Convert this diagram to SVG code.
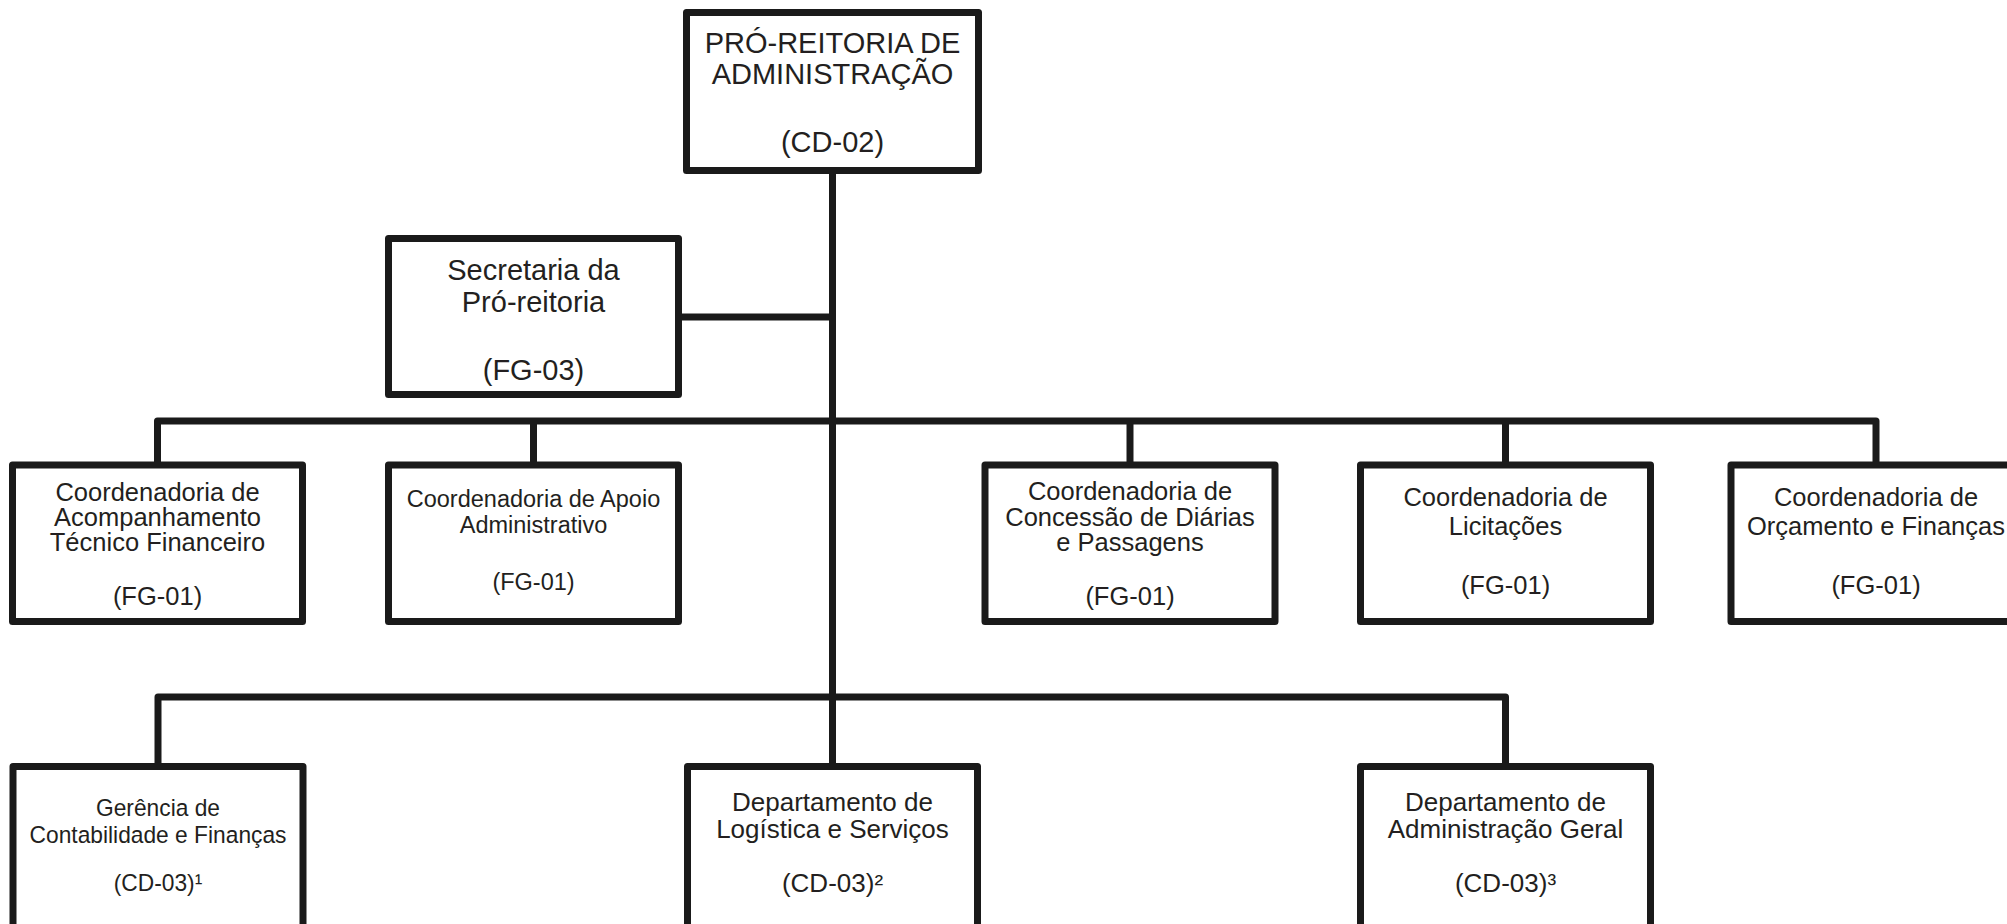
<svg xmlns="http://www.w3.org/2000/svg" width="2007" height="924" viewBox="0 0 2007 924">
<style>
.box{fill:#fff;stroke:#1a1a1a;stroke-width:7;stroke-linejoin:round}
.con{fill:none;stroke:#1a1a1a;stroke-width:7;stroke-linejoin:round}
text{font-family:"Liberation Sans",Arial,sans-serif;fill:#231f20;text-anchor:middle}
.f29{font-size:29px}
.f255{font-size:25.5px}
.f235{font-size:23.5px}
.f26{font-size:26px}
</style>
<rect width="2007" height="924" fill="#fff"/>
<g id="connectors">
<path class="con" d="M832.5,170 V766.5"/>
<path class="con" d="M678.5,317 H832.5"/>
<path class="con" d="M157.5,465 V421 H1876 V465"/>
<path class="con" d="M533.5,421 V465"/>
<path class="con" d="M1130,421 V465"/>
<path class="con" d="M1505.5,421 V465"/>
<path class="con" d="M158,766.5 V697 H1505.5 V766.5"/>
</g>
<g id="pro-reitoria">
<rect class="box" x="686.5" y="12.5" width="292" height="158"/>
<text class="f29" x="832.5" y="53">PRÓ-REITORIA DE</text>
<text class="f29" x="832.5" y="84">ADMINISTRAÇÃO</text>
<text class="f29" x="832.5" y="152">(CD-02)</text>
</g>
<g id="secretaria">
<rect class="box" x="388.5" y="238.5" width="290" height="156"/>
<text class="f29" x="533.5" y="280">Secretaria da</text>
<text class="f29" x="533.5" y="312">Pró-reitoria</text>
<text class="f29" x="533.5" y="380">(FG-03)</text>
</g>
<g id="coord-acompanhamento">
<rect class="box" x="12.5" y="465" width="290" height="156.5"/>
<text class="f255" x="157.5" y="501">Coordenadoria de</text>
<text class="f255" x="157.5" y="526">Acompanhamento</text>
<text class="f255" x="157.5" y="551">Técnico Financeiro</text>
<text class="f255" x="157.5" y="605">(FG-01)</text>
</g>
<g id="coord-apoio">
<rect class="box" x="388.5" y="465" width="290" height="156.5"/>
<text class="f235" x="533.5" y="507">Coordenadoria de Apoio</text>
<text class="f235" x="533.5" y="533">Administrativo</text>
<text class="f235" x="533.5" y="590">(FG-01)</text>
</g>
<g id="coord-diarias">
<rect class="box" x="985" y="465" width="290" height="156.5"/>
<text class="f255" x="1130" y="500">Coordenadoria de</text>
<text class="f255" x="1130" y="526">Concessão de Diárias</text>
<text class="f255" x="1130" y="551">e Passagens</text>
<text class="f255" x="1130" y="605">(FG-01)</text>
</g>
<g id="coord-licitacoes">
<rect class="box" x="1360.5" y="465" width="290" height="156.5"/>
<text class="f255" x="1505.5" y="506">Coordenadoria de</text>
<text class="f255" x="1505.5" y="535">Licitações</text>
<text class="f255" x="1505.5" y="594">(FG-01)</text>
</g>
<g id="coord-orcamento">
<rect class="box" x="1731" y="465" width="290" height="156.5"/>
<text class="f255" x="1876" y="506">Coordenadoria de</text>
<text class="f255" x="1876" y="535">Orçamento e Finanças</text>
<text class="f255" x="1876" y="594">(FG-01)</text>
</g>
<g id="gerencia-contabilidade">
<rect class="box" x="13" y="766.5" width="290" height="180"/>
<g transform="translate(158,0) scale(0.93,1)">
<text x="0" y="816" font-size="24.5">Gerência de</text>
<text x="0" y="843" font-size="24.5">Contabilidade e Finanças</text>
<text x="0" y="891" font-size="24.5">(CD-03)¹</text>
</g>
</g>
<g id="dep-logistica">
<rect class="box" x="687.5" y="766.5" width="290" height="180"/>
<text class="f26" x="832.5" y="811">Departamento de</text>
<text class="f26" x="832.5" y="838">Logística e Serviços</text>
<text class="f26" x="832.5" y="892">(CD-03)²</text>
</g>
<g id="dep-adm-geral">
<rect class="box" x="1360.5" y="766.5" width="290" height="180"/>
<text class="f26" x="1505.5" y="811">Departamento de</text>
<text class="f26" x="1505.5" y="838">Administração Geral</text>
<text class="f26" x="1505.5" y="892">(CD-03)³</text>
</g>
</svg>
